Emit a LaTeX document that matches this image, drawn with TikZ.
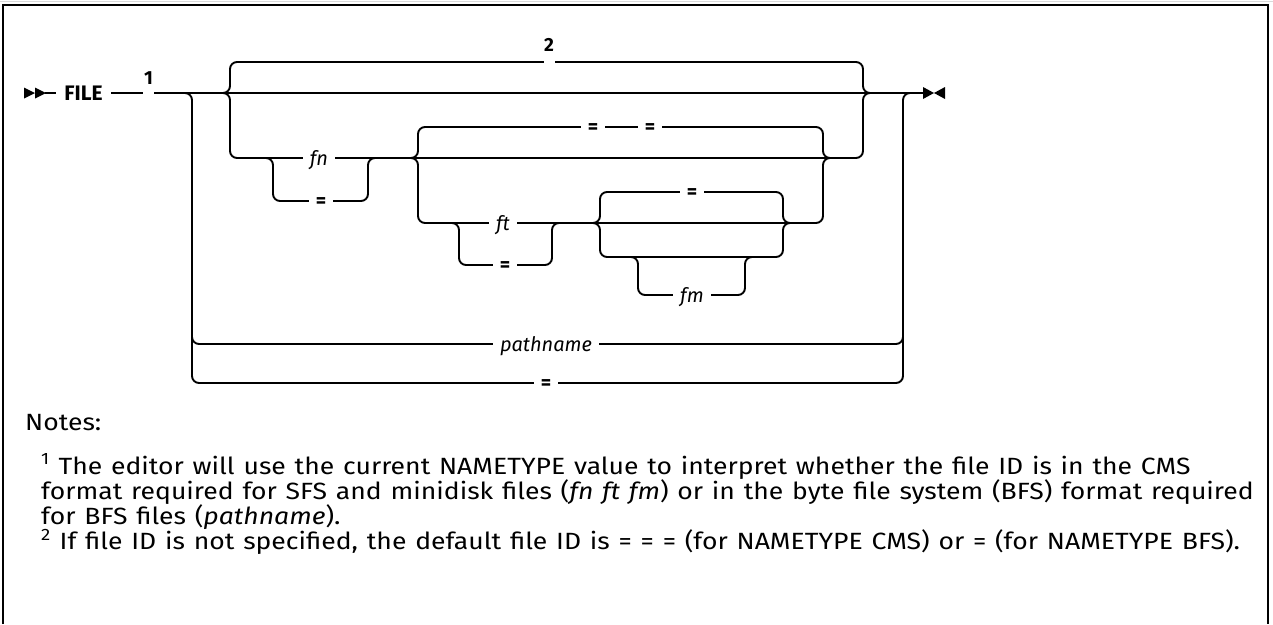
\documentclass[tikz,border=0pt]{standalone}
\usepackage{fontspec}
\setmainfont{Fira Sans}
\newfontfamily\notefont{Fira Sans}[FakeStretch=1.13, WordSpace=1.25]
\usetikzlibrary{calc}
\begin{document}
\begin{tikzpicture}[x=1pt,y=-1pt,
  rail/.style={line width=1.9pt, rounded corners=7pt},
  lbl/.style={fill=white, inner xsep=7pt, inner ysep=0pt, anchor=base,
    text height=15pt, text depth=4pt, font=\fontsize{20}{22}\selectfont},
  supl/.style={inner sep=0pt, font=\fontsize{19}{20}\selectfont\bfseries},
  gapbox/.style={fill=white, minimum width=11pt, minimum height=5pt, inner sep=0pt},
  notes/.style={anchor=base west, inner sep=0pt, font=\notefont\fontsize{23.5}{25}\selectfont},
  tip/.style={fill=black}
]
\useasboundingbox (0,0) rectangle (1273,624);
% frame
\draw[gray!30, line width=1.5pt] (0,1.5) -- (1273,1.5);
\draw[line width=2pt] (3,624) -- (3,5) -- (1268,5) -- (1268,624);

\coordinate (start) at (45,93);
\coordinate (stop) at (923,93);

% start and end marks
\fill[tip] (24,87.5) -- (35,93) -- (24,98.5) -- cycle;
\fill[tip] (35,87.5) -- (46,93) -- (35,98.5) -- cycle;
\fill[tip] (stop) ++(0,-6) -- ++(11,6) -- ++(-11,6) -- cycle;
\fill[tip] (945,87) -- (934,93) -- (945,99) -- cycle;
% main line
\draw[rail] (start) -- (stop);
% pathname / = branch
\draw[rail] (180,93) -- (192,93) -- (192,383) -- (903,383) -- (903,93) -- (915,93);
\draw[rail] (192,320) -- (192,344) -- (903,344) -- (903,320);
% top (default) and fn row
\draw[rail] (218,93) -- (230,93) -- (230,62) -- (863,62) -- (863,93) -- (875,93);
\draw[rail] (218,93) -- (230,93) -- (230,158) -- (863,158) -- (863,93) -- (875,93);
% fn alternative
\draw[rail] (261,158) -- (273,158) -- (273,201) -- (368,201) -- (368,158) -- (380,158);
% = = row and ft row
\draw[rail] (406,158) -- (418,158) -- (418,127) -- (823,127) -- (823,158) -- (835,158);
\draw[rail] (406,158) -- (418,158) -- (418,223) -- (823,223) -- (823,158) -- (835,158);
% ft alternative
\draw[rail] (447,223) -- (459,223) -- (459,265) -- (552,265) -- (552,223) -- (564,223);
% fm choice
\draw[rail] (588,223) -- (600,223) -- (600,192) -- (783,192) -- (783,223) -- (795,223);
\draw[rail] (588,223) -- (600,223) -- (600,257) -- (783,257) -- (783,223) -- (795,223);
\draw[rail] (626,257) -- (638,257) -- (638,295) -- (745,295) -- (745,257) -- (757,257);

% labels (nodes), drawn over the rails
\node[lbl, inner xsep=8pt, font=\fontsize{21}{22}\selectfont\bfseries] (file) at (83.5,100) {FILE};
\node[gapbox] (g1) at (148,93) {};
\node[supl] (s1) at (148.5,78) {1};
\node[gapbox] (g2) at (549,62) {};
\node[supl] (s2) at (549,45) {2};
\node[lbl] (fn) at (319,165) {\itshape fn};
\node[lbl] (fneq) at (321,207.5) {\bfseries =};
\node[lbl] (eqa) at (593,133.5) {\bfseries =};
\node[lbl] (eqb) at (650,133.5) {\bfseries =};
\node[lbl] (ft) at (503,230) {\itshape ft};
\node[lbl] (fteq) at (505,271.5) {\bfseries =};
\node[lbl] (fmeq) at (692,198.5) {\bfseries =};
\node[lbl] (fm) at (692,302) {\itshape fm};
\node[lbl] (path) at (546,351) {\itshape pathname};
\node[lbl] (peq) at (546,389.5) {\bfseries =};

% notes
\node[notes] (nt) at (25,430) {Notes:};
\node[notes] (n1) at (41,474) {\textsuperscript{1} The editor will use the current NAMETYPE value to interpret whether the file ID is in the CMS};
\node[notes] (n2) at (41,499.5) {format required for SFS and minidisk files (\textit{fn ft fm}) or in the byte file system (BFS) format required};
\node[notes] (n3) at (41,524.5) {for BFS files (\textit{pathname}).};
\node[notes] (n4) at (41,549.5) {\textsuperscript{2} If file ID is not specified, the default file ID is = = = (for NAMETYPE CMS) or = (for NAMETYPE BFS).};
\end{tikzpicture}
\end{document}
